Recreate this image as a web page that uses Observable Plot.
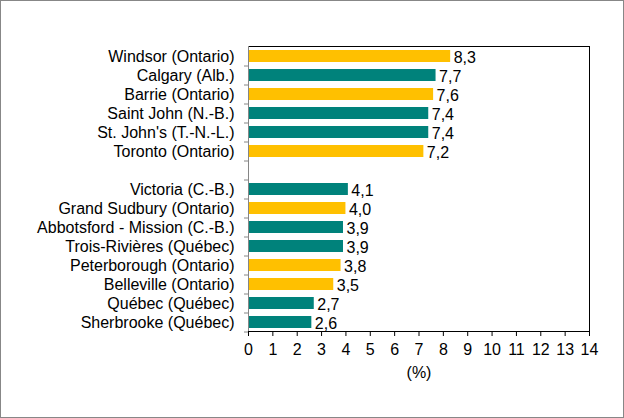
<!DOCTYPE html>
<html><head><meta charset="utf-8">
<script src="https://cdn.jsdelivr.net/npm/d3@7"></script>
<script src="https://cdn.jsdelivr.net/npm/@observablehq/plot@0.6"></script>
<style>
body{margin:0;background:#fff}
svg{display:block;outline:1px solid #878787;outline-offset:-1px}
</style>
</head><body><div id="chart"></div>
<script>
const cities = [
  "Windsor (Ontario)", "Calgary (Alb.)", "Barrie (Ontario)", "Saint John (N.-B.)",
  "St. John's (T.-N.-L.)", "Toronto (Ontario)",
  "Victoria (C.-B.)", "Grand Sudbury (Ontario)", "Abbotsford - Mission (C.-B.)",
  "Trois-Rivières (Québec)", "Peterborough (Ontario)", "Belleville (Ontario)",
  "Québec (Québec)", "Sherbrooke (Québec)"
];
const values = [8.3, 7.7, 7.6, 7.4, 7.4, 7.2, 4.1, 4.0, 3.9, 3.9, 3.8, 3.5, 2.7, 2.6];
const groups = ["Ontario", "Autre", "Ontario", "Autre", "Autre", "Ontario",
  "Autre", "Ontario", "Autre", "Autre", "Ontario", "Ontario", "Autre", "Autre"];
const xTicks = [0, 1, 2, 3, 4, 5, 6, 7, 8, 9, 10, 11, 12, 13, 14];
const gapLabel = " ";
const xLabel = "(%)";

const data = cities.map((c, i) => ({city: c, value: values[i], group: groups[i]}));
const domain = [...cities.slice(0, 6), gapLabel, ...cities.slice(6)];

const plot = Plot.plot({
  width: 624, height: 418,
  marginLeft: 248, marginRight: 35, marginTop: 46, marginBottom: 87,
  style: {fontFamily: "'Liberation Sans', Arial, sans-serif", fontSize: "16px", color: "#000", background: "#fff", overflow: "visible"},
  x: {domain: [0, 14]},
  y: {domain, paddingInner: 0.37, paddingOuter: 0.185, align: 0.5},
  color: {domain: ["Ontario", "Autre"], range: ["#FFC000", "#00827B"]},
  marks: [
    Plot.frame({stroke: "#000"}),
    Plot.barX(data, {x: "value", y: "city", fill: "group"}),
    Plot.ruleX([0], {stroke: "#868686"}),
    Plot.text(data, {x: "value", y: "city", text: d => d.value.toFixed(1).replace(".", ","),
      textAnchor: "start", dx: 3, dy: 1, fontSize: 16, fill: "#000"}),
    Plot.axisY({tickSize: 0, tickPadding: 14, label: null, fontSize: 16, fill: "#000"}),
    Plot.axisY({tickSize: 4, tickFormat: () => "", label: null, dy: 9.5, stroke: "#868686"}),
    Plot.axisX({ticks: xTicks, tickSize: 5, tickPadding: 7, label: null, tickFormat: d => String(d), fontSize: 16, fill: "#000", stroke: "#000"}),
    Plot.text([xLabel], {frameAnchor: "bottom", lineAnchor: "middle", dy: 41, fontSize: 16, fill: "#000"})
  ]
});
document.getElementById("chart").append(plot);
</script>
</body></html>
